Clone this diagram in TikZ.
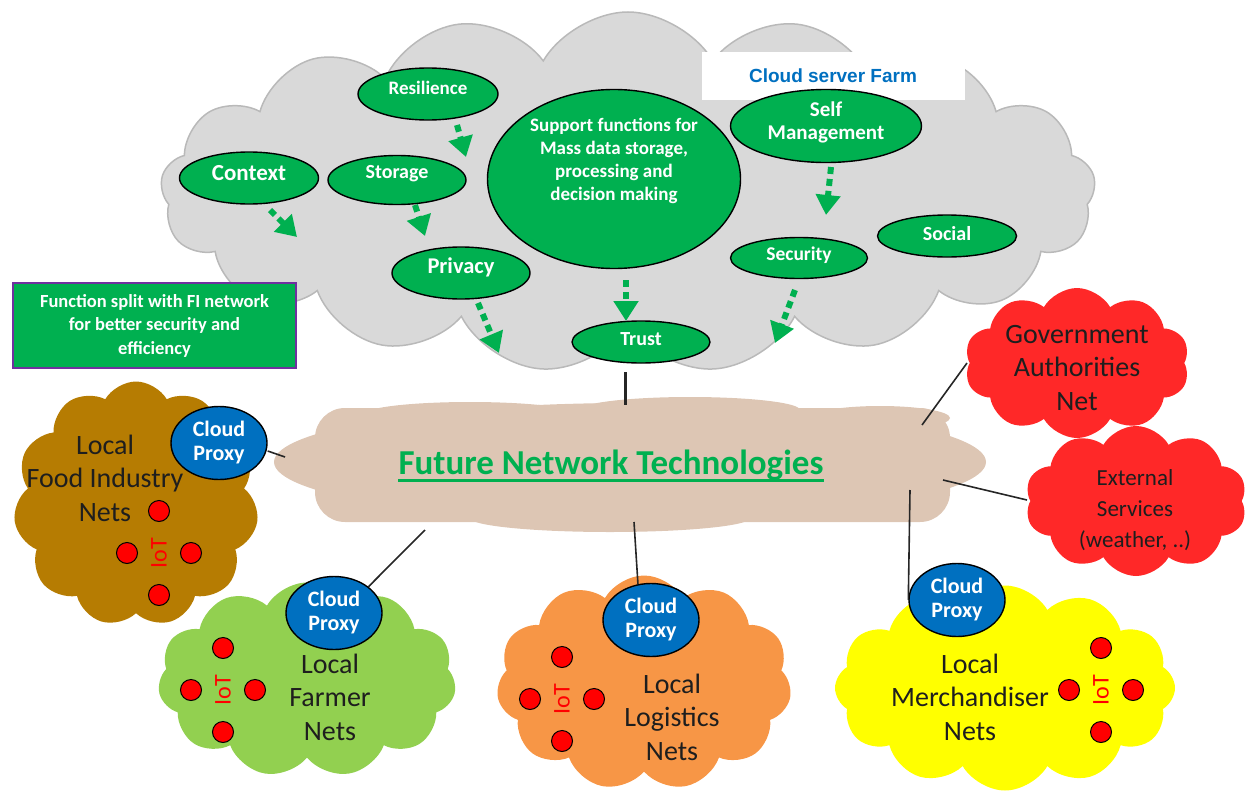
\documentclass[tikz,border=0pt]{standalone}
\usepackage{fontspec}
\setmainfont{Carlito}
\newfontfamily\arialf{Liberation Sans}
\usetikzlibrary{shapes.symbols,shapes.geometric,arrows.meta}
\definecolor{cgreen}{RGB}{0,176,80}
\definecolor{cblue}{RGB}{0,112,192}
\definecolor{cpurple}{RGB}{112,48,160}
\definecolor{cgrey}{RGB}{217,217,217}
\definecolor{cgreyline}{RGB}{185,185,185}
\definecolor{cbeige}{RGB}{221,198,180}
\definecolor{cbrown}{RGB}{182,124,2}
\definecolor{cfarm}{RGB}{146,208,80}
\definecolor{corange}{RGB}{247,150,70}
\definecolor{cyellow}{RGB}{255,255,0}
\definecolor{cred}{RGB}{255,40,40}
\definecolor{cdark}{RGB}{30,30,30}
\tikzset{
  cloudbg/.style={cloud, cloud puffs=#1, cloud puff arc=120, inner sep=0pt},
  ell/.style={ellipse, draw=black, line width=1.4pt, fill=cgreen, inner sep=0pt},
  wt/.style={text=white, font=\bfseries\fontsize{20}{23}\selectfont, align=center},
  garrow/.style={draw=cgreen, line width=6pt, dash pattern=on 7pt off 5pt, -{Triangle[length=20pt,width=24pt]}},
  proxy/.style={ellipse, draw=black, line width=1.4pt, fill=cblue, minimum width=96pt, minimum height=73pt, inner sep=0pt, text=white, font=\bfseries\fontsize{22}{24}\selectfont, align=center},
  localtxt/.style={text=cdark, font=\fontsize{28}{33.5}\selectfont, align=center},
  iot/.style={circle, draw=black, line width=1pt, fill=red, minimum size=21pt, inner sep=0pt},
  iottxt/.style={text=red, font=\fontsize{24}{24}\selectfont, rotate=90},
  conn/.style={draw=black!85, line width=1.6pt}
}
\begin{document}
\begin{tikzpicture}[x=1pt,y=-1pt]
\useasboundingbox (0,0) rectangle (1247,792);

% ---------- big grey cloud ----------
\node[cloudbg=17, fill=cgrey, draw=cgreyline, line width=1.5pt, minimum width=935pt, minimum height=360pt, aspect=2.6] (farm) at (628,192) {};

% ---------- future network cloud ----------
\node[ellipse, fill=cbeige, minimum width=712pt, minimum height=118pt, inner sep=0pt] (fnt) at (630,462) {};
\fill[cbeige, rounded corners=30pt] (315,408) rectangle (950,522);
\fill[cbeige] (610,518) ellipse[x radius=140, y radius=14];
\fill[cbeige] (470,414) ellipse[x radius=105, y radius=12];
\fill[cbeige] (690,410) ellipse[x radius=110, y radius=13];
\fill[cbeige] (880,418) ellipse[x radius=70, y radius=12];

% ---------- coloured clouds ----------
\node[cloudbg=11, fill=cbrown, minimum width=245pt, minimum height=245pt, aspect=1] (food) at (136,504) {};
\node[cloudbg=11, fill=cfarm, minimum width=298pt, minimum height=195pt, aspect=1.5] (farmer) at (307,680) {};
\node[cloudbg=11, fill=corange, minimum width=295pt, minimum height=215pt, aspect=1.4] (logi) at (644,683) {};
\node[cloudbg=12, fill=cyellow, minimum width=340pt, minimum height=205pt, aspect=1.65] (merch) at (1005,688) {};
\node[cloudbg=10, fill=cred, minimum width=225pt, minimum height=150pt, aspect=1.5] (gov) at (1077,363) {};
\node[cloudbg=10, fill=cred, minimum width=222pt, minimum height=150pt, aspect=1.5] (ext) at (1136,501) {};

% ---------- title box ----------
\node[fill=white, minimum width=263pt, minimum height=47pt, inner sep=0pt, text=cblue, font=\arialf\bfseries\fontsize{19}{20}\selectfont] (title) at (833,76) {Cloud server Farm};

% ---------- green function ellipses ----------
\node[ell, minimum width=140pt, minimum height=52pt] (res) at (428,94) {};
\node[wt, yshift=6pt, font=\bfseries\fontsize{19}{23}\selectfont] at (res) {Resilience};
\node[ell, minimum width=139pt, minimum height=52pt] (ctx) at (249,178) {};
\node[wt, yshift=5pt, font=\bfseries\fontsize{23}{23}\selectfont] at (ctx) {Context};
\node[ell, minimum width=138pt, minimum height=49pt] (sto) at (397,180) {};
\node[wt, yshift=6pt] at (sto) {Storage};
\node[ell, minimum width=138pt, minimum height=52pt] (pri) at (461,273) {};
\node[wt, yshift=6pt, font=\bfseries\fontsize{22.5}{23}\selectfont] at (pri) {Privacy};
\node[ell, minimum width=253pt, minimum height=179pt] (sup) at (614,179) {};
\node[wt, yshift=18pt, font=\bfseries\fontsize{19}{23}\selectfont] at (sup) {Support functions for\\Mass data storage,\\processing and\\decision making};
\node[ell, minimum width=138pt, minimum height=42pt] (tru) at (641,342) {};
\node[wt, yshift=3pt] at (tru) {Trust};
\node[ell, minimum width=191pt, minimum height=73pt] (self) at (826,126) {};
\node[wt, yshift=4pt, font=\bfseries\fontsize{21}{23}\selectfont] at (self) {Self\\Management};
\node[ell, minimum width=137pt, minimum height=41pt] (sec) at (799,258) {};
\node[wt, yshift=3pt, font=\bfseries\fontsize{19.5}{23}\selectfont] at (sec) {Security};
\node[ell, minimum width=139pt, minimum height=42pt] (soc) at (947,236) {};
\node[wt, yshift=2pt] at (soc) {Social};

% ---------- dashed green arrows ----------
\coordinate (a1s) at (270,210); \coordinate (a1e) at (297,237);
\coordinate (a2s) at (457,125); \coordinate (a2e) at (466,157);
\coordinate (a3s) at (415,205); \coordinate (a3e) at (425,236);
\coordinate (a4s) at (478,303); \coordinate (a4e) at (499,353);
\coordinate (a5s) at (626,280); \coordinate (a5e) at (626,321);
\coordinate (a6s) at (831,167); \coordinate (a6e) at (826,215);
\coordinate (a7s) at (795,290); \coordinate (a7e) at (775,343);
\draw[garrow] (a1s) -- (a1e);
\draw[garrow] (a2s) -- (a2e);
\draw[garrow] (a3s) -- (a3e);
\draw[garrow] (a4s) -- (a4e);
\draw[garrow] (a5s) -- (a5e);
\draw[garrow] (a6s) -- (a6e);
\draw[garrow] (a7s) -- (a7e);

% ---------- side box ----------
\node[draw=cpurple, line width=1.5pt, fill=cgreen, minimum width=283pt, minimum height=85pt, inner sep=0pt, text=white, font=\bfseries\fontsize{18.5}{23.5}\selectfont, align=center] (split) at (154.5,325.5) {Function split with FI network\\for better security and\\efficiency};

% ---------- FNT label ----------
\node[text=cgreen, inner sep=0pt, anchor=base, font=\bfseries\fontsize{35}{36}\selectfont] (fntlbl) at (611,474) {Future Network Technologies};
\draw[cgreen, line width=3pt] ([yshift=-6pt]fntlbl.base west) -- ([yshift=-6pt]fntlbl.base east);

% ---------- proxies ----------
\node[proxy] (pfood) at (219,443) {Cloud\\Proxy};
\node[proxy] (pfarm) at (334,613) {Cloud\\Proxy};
\node[proxy] (plogi) at (651,620) {Cloud\\Proxy};
\node[proxy] (pmerch) at (957,600) {Cloud\\Proxy};

% ---------- connectors ----------
\coordinate (fntTop) at (625,405);
\coordinate (fntL) at (285,457);
\coordinate (fntFarm) at (425,530);
\coordinate (fntLogi) at (634,522);
\coordinate (fntMerch) at (910,490);
\coordinate (fntGov) at (922,425);
\coordinate (fntExt) at (943,480);
\coordinate (govEnd) at (967,363);
\coordinate (extEnd) at (1027,500);
\coordinate (farmBot) at (625,372);
\draw[conn, line width=3pt] (farmBot) -- (fntTop);
\draw[conn] (pfood.east) ++(0,8) -- (fntL);
\draw[conn] (fntFarm) -- (pfarm.north east);
\draw[conn] (fntLogi) -- (plogi.110);
\draw[conn] (fntMerch) -- (pmerch.west);
\draw[conn] (fntGov) -- (govEnd);
\draw[conn] (fntExt) -- (extEnd);

% ---------- local labels ----------
\node[localtxt] (lfood) at (105,478) {Local\\Food Industry\\Nets};
\node[localtxt] (lfarm) at (330,697) {Local\\Farmer\\Nets};
\node[localtxt] (llogi) at (672,717) {Local\\Logistics\\Nets};
\node[localtxt] (lmerch) at (970,697) {Local\\Merchandiser\\Nets};
\node[localtxt, font=\fontsize{28}{33.5}\selectfont] (lgov) at (1077,368) {Government\\Authorities\\Net};
\node[localtxt, font=\fontsize{23}{31}\selectfont] (lext) at (1135,510) {External\\Services\\(weather, ..)};

% ---------- IoT groups ----------
\foreach \n/\cx/\cy in {food/159/553, farm/223/690, logi/562/699, merch/1101/690}{
  \node[iot] (\n T) at (\cx,\cy-42) {};
  \node[iot] (\n L) at (\cx-32,\cy) {};
  \node[iot] (\n R) at (\cx+32,\cy) {};
  \node[iot] (\n B) at (\cx,\cy+42) {};
  \node[iottxt] (\n I) at (\cx,\cy) {IoT};
}
\end{tikzpicture}
\end{document}
